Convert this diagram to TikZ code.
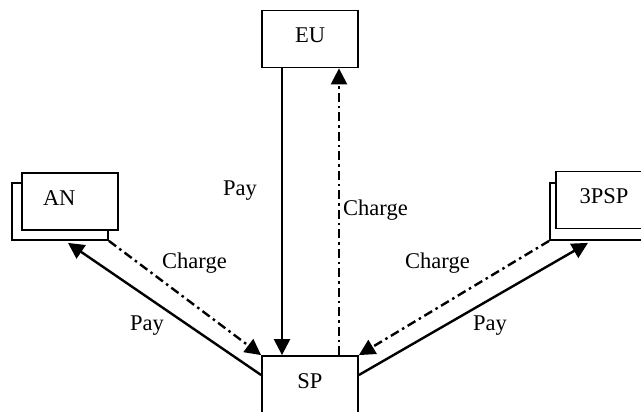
\documentclass[tikz,border=0pt]{standalone}
\usepackage{fontspec}
\setmainfont{Liberation Serif}
\usetikzlibrary{arrows.meta}

\tikzset{
  box/.style={draw, line width=1.8pt, fill=white, minimum width=96pt,
    minimum height=57pt, inner sep=0pt, text height=15pt, text depth=7pt},
  pay/.style={line width=2.4pt, -{Triangle[width=16pt,length=16pt]}},
  charge/.style={pay, dash pattern=on 9pt off 4pt on 2.5pt off 4pt},
  lbl/.style={anchor=base west, inner sep=0pt}
}

\begin{document}
\begin{tikzpicture}[x=1pt, y=-1pt, font=\fontsize{22.5}{27}\selectfont]
  \path[use as bounding box, clip] (0,0) rectangle (641,412);

  % stacked boxes: the back sheet first
  \node[box] (ANb)  at (60,211.5)  {};
  \node[box, text width=54pt, align=left, inner xsep=21pt] (AN) at (70,201.5) {AN};
  \node[box] (PSPb) at (598,211.5) {};
  \node[box] (PSP)  at (604,200)   {3PSP};

  \node[box] (EU) at (310,39)    {EU};
  \node[box] (SP) at (310,384.5) {SP};

  % payments and charges
  \draw[pay]    ([xshift=-28pt]EU.south) -- ([xshift=-28pt]SP.north);
  \draw[charge] ([xshift=29pt]SP.north)  -- ([xshift=29pt]EU.south);

  \draw[pay]    ([yshift=9.5pt]SP.west) -- ([xshift=8pt,yshift=-2pt]ANb.south);
  \draw[charge] (ANb.south east) -- (SP.north west);

  \draw[pay]    ([yshift=9.5pt]SP.east) -- ([xshift=-10pt,yshift=-2pt]PSPb.south);
  \draw[charge] (PSPb.south west) -- (SP.north east);

  % labels
  \node[lbl] (lPayEU)    at (223,195) {Pay};
  \node[lbl] (lChargeEU) at (343,215) {Charge};
  \node[lbl] (lChargeAN) at (162,268) {Charge};
  \node[lbl] (lPayAN)    at (130,330) {Pay};
  \node[lbl] (lChargeP)  at (405,268) {Charge};
  \node[lbl] (lPayP)     at (473,330) {Pay};
\end{tikzpicture}
\end{document}
